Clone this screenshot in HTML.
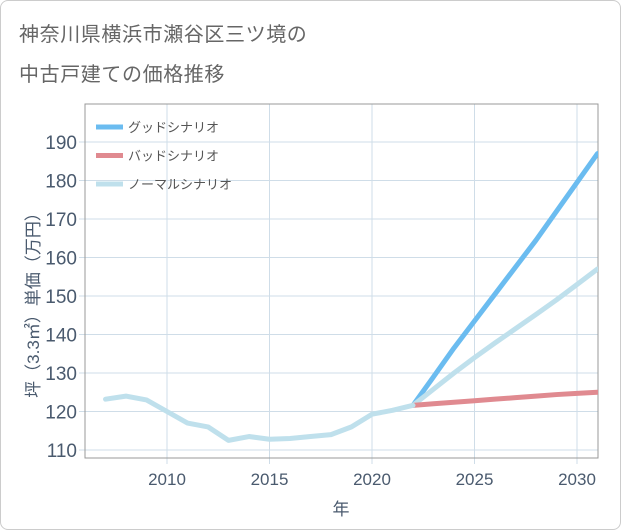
<!DOCTYPE html>
<html><head><meta charset="utf-8"><style>
body{margin:0;background:#fff;}
#wrap{position:relative;width:621px;height:530px;box-sizing:border-box;border:1px solid #ccc;border-radius:8px;overflow:hidden;background:#fff;}
.t{position:absolute;left:18px;font:20px "Liberation Sans","Noto Sans CJK JP",sans-serif;color:#666;letter-spacing:0.6px;}
svg text{font-family:"Liberation Sans","Noto Sans CJK JP",sans-serif;}
</style></head><body>
<div id="wrap">
<div class="t" style="top:17px">神奈川県横浜市瀬谷区三ツ境の</div>
<div class="t" style="top:57px">中古戸建ての価格推移</div>
<svg id="c" width="621" height="530" style="position:absolute;left:0;top:0"></svg>
</div>
<script>
const histYears=[2007,2008,2009,2010,2011,2012,2013,2014,2015,2016,2017,2018,2019,2020,2021,2022];
const histValues=[123.2,124,123,120,117,116,112.5,113.5,112.8,113,113.5,114,116,119.3,120.3,121.6];
const projYears=[2022,2023,2024,2025,2026,2027,2028,2029,2030,2031];
const goodValues=[121.6,129,136.5,143.5,150.5,157.5,164.5,172,179.5,187];
const badValues=[121.6,122,122.4,122.8,123.2,123.6,124,124.4,124.7,125];
const normalValues=[121.6,125.8,130,134,137.8,141.5,145.2,149,153,157];
const yTicks=[110,120,130,140,150,160,170,180,190];
const xTicks=[2010,2015,2020,2025,2030];
const legendLabels=["グッドシナリオ","バッドシナリオ","ノーマルシナリオ"];

const NS="http://www.w3.org/2000/svg",svg=document.getElementById('c');
const L=84,R=597,T=103,B=457;
const x=v=>166+(v-2010)*20.5;
const y=v=>449-(v-110)*3.85;
function mk(t,a,p){const e=document.createElementNS(NS,t);for(const k in a)e.setAttribute(k,a[k]);(p||svg).appendChild(e);return e;}
for(const v of yTicks){
 const g=mk('line',{x1:L-6,x2:R,y1:y(v),y2:y(v),stroke:'#cfdde8','stroke-width':1});
 
 
 const t=mk('text',{x:L-8,y:y(v)+7,'text-anchor':'end','font-size':19,fill:'#4a5a6e'});t.textContent=v;
 
 
}
for(const v of xTicks){
 const g=mk('line',{x1:x(v),x2:x(v),y1:T,y2:B+6,stroke:'#cfdde8','stroke-width':1});
 
 
 const t=mk('text',{x:x(v),y:B+27,'text-anchor':'middle','font-size':17,fill:'#4a5a6e'});t.textContent=v;
 
 
}
const fr=mk('rect',{x:L,y:T,width:R-L,height:B-T,fill:'none',stroke:'#999','stroke-width':1});


const cp=mk('clipPath',{id:'cp'});mk('rect',{x:L,y:T,width:R-L,height:B-T},cp);
function line(xs,vs,col,name){
 const p=mk('polyline',{points:xs.map((a,i)=>x(a)+','+y(vs[i])).join(' '),fill:'none',stroke:col,'stroke-width':5,'stroke-linejoin':'round','stroke-linecap':'round','clip-path':'url(#cp)'});
 
 
}
line(projYears,goodValues,'#6bbcf0','good-scenario-line');
line(projYears,normalValues,'#bfe0ec','normal-scenario-line');
line(projYears,badValues,'#e08a90','bad-scenario-line');
line(histYears,histValues,'#bfe0ec','historical-line');
const cols=['#6bbcf0','#e08a90','#bfe0ec'];
legendLabels.forEach((s,i)=>{
 const yy=126+i*28.5;
 const l=mk('line',{x1:95,x2:122,y1:yy,y2:yy,stroke:cols[i],'stroke-width':5});
 
 
 const t=mk('text',{x:127,y:yy+5,'font-size':13,fill:'#555'});t.textContent=s;
 
 
});
const yt=mk('text',{x:0,y:0,'font-size':17,fill:'#4a5a6e','text-anchor':'middle',transform:'translate(38,300) rotate(-90)'});
yt.textContent='坪（3.3㎡）単価（万円）';


const xt=mk('text',{x:340,y:514,'font-size':17,fill:'#4a5a6e','text-anchor':'middle'});
xt.textContent='年';


</script>
</body></html>
